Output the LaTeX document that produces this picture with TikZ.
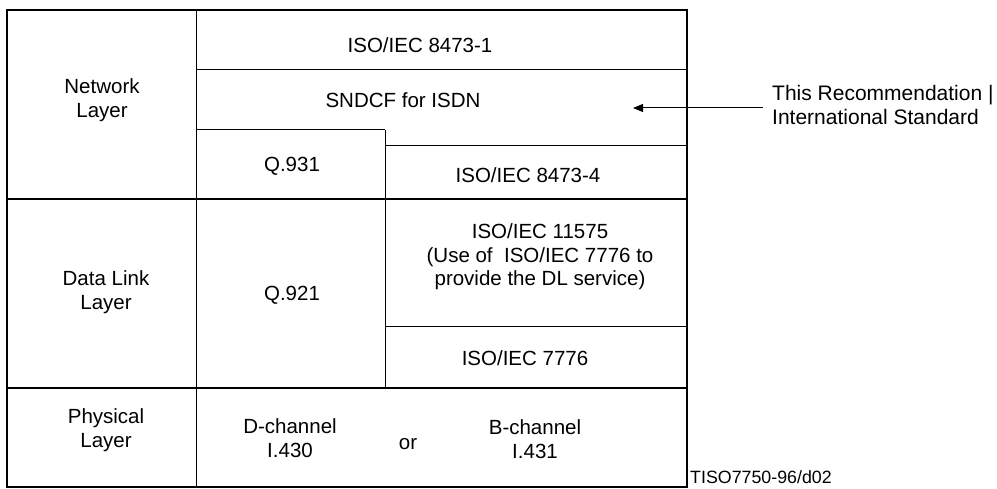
\documentclass[tikz,border=0pt]{standalone}
\usepackage{fontspec}
\setmainfont{Liberation Sans}
\usetikzlibrary{arrows.meta}
\tikzset{
  lbl/.style={align=center, inner sep=0pt, font=\fontsize{20.5}{24}\selectfont},
  thin/.style={line width=1pt},
  thick2/.style={line width=1.8pt},
}
\begin{document}
\begin{tikzpicture}[x=1pt,y=-1pt]
\useasboundingbox (0,0) rectangle (997,489);
% outer frame
\draw[thick2] (7,10) rectangle (687,487);
% vertical lines
\draw[thin] (196,10) -- (196,487);
\draw[thin] (385,130) -- (385,388);
% horizontal lines
\draw[thin] (196,70) -- (687,70);
\draw[thin] (196,130) -- (385,130);
\draw[thin] (385,146) -- (687,146);
\draw[thin] (385,327) -- (687,327);
\draw[thick2] (7,199) -- (687,199);
\draw[thick2] (7,388) -- (687,388);
% labels
\node[lbl] (nl) at (102,100) {Network\\Layer};
\node[lbl] (iso1) at (420,45) {ISO/IEC 8473-1};
\node[lbl] (sndcf) at (403,100) {SNDCF for ISDN};
\node[lbl] (q931) at (292,166) {Q.931};
\node[lbl] (iso4) at (528,175) {ISO/IEC 8473-4};
\node[lbl] (dl) at (106,292) {Data Link\\Layer};
\node[lbl] (q921) at (292,295) {Q.921};
\node[lbl, font=\fontsize{20.5}{23.5}\selectfont] (iso11575) at (540,257) {ISO/IEC 11575\\(Use of\ \ ISO/IEC 7776 to\\provide the DL service)};
\node[lbl] (iso7776) at (525,358) {ISO/IEC 7776};
\node[lbl] (phys) at (106,430) {Physical\\Layer};
\node[lbl] (dch) at (290,438) {D-channel\\I.430};
\node[lbl] (or) at (408,444) {or};
\node[lbl] (bch) at (535,439) {B-channel\\I.431};
\node[lbl, align=left, anchor=west, font=\fontsize{21}{24}\selectfont] (rec) at (772,105) {This Recommendation |\\International Standard};
\node[inner sep=0pt, anchor=west, font=\fontsize{17.8}{20}\selectfont] (fig) at (690,477) {TISO7750-96/d02};
% arrow
\coordinate (tip) at (633,108);
\coordinate (start) at (763,108);
\draw[thin, -{Triangle[length=10pt,width=8pt]}] (start) -- (tip);
\end{tikzpicture}
\end{document}
